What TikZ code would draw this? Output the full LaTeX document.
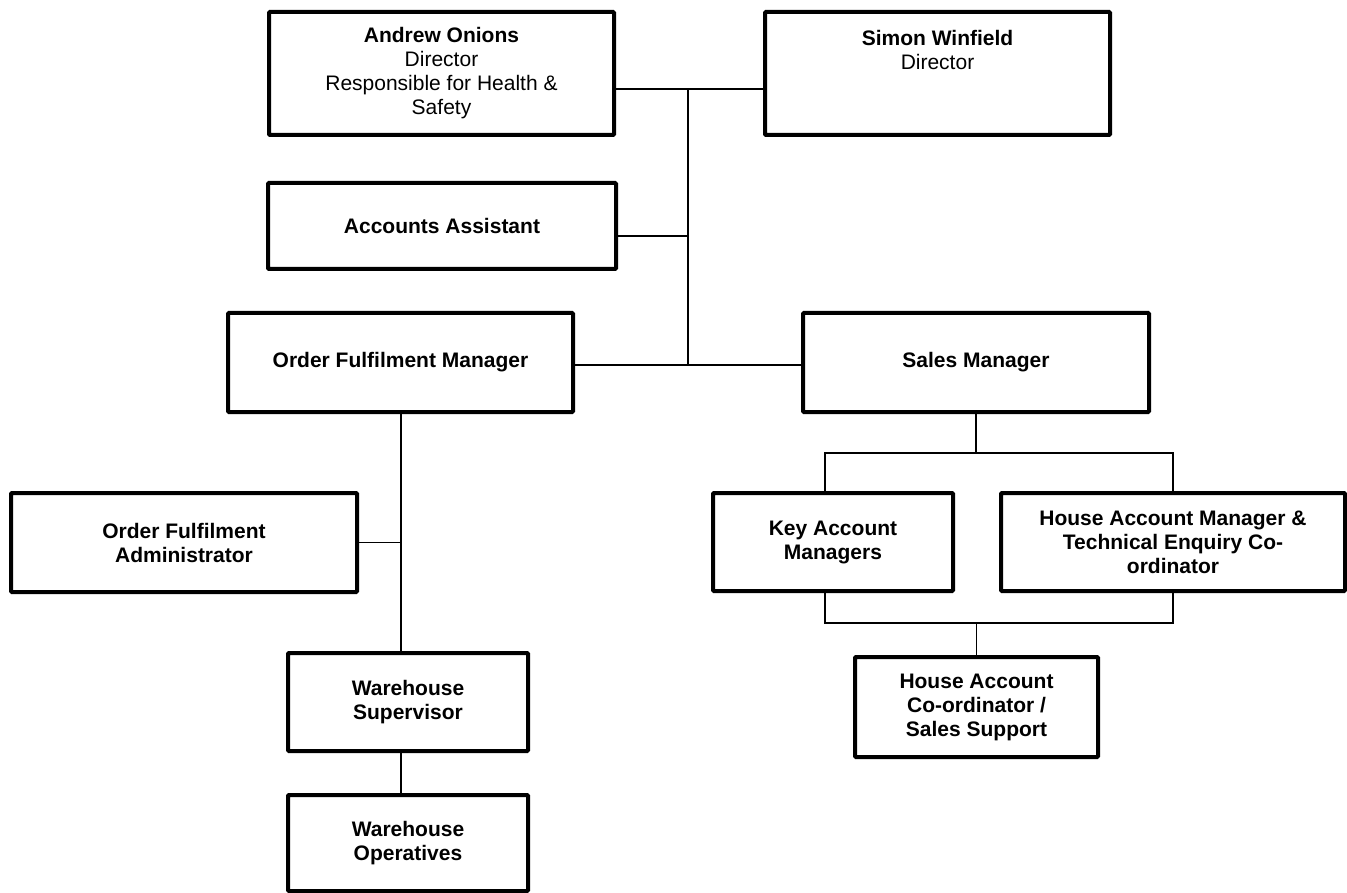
\documentclass[tikz,border=0pt]{standalone}
\usepackage{fontspec}
\setmainfont{Liberation Sans}
\begin{document}
\begin{tikzpicture}[x=1pt,y=-1pt,
  box/.style={draw, line width=4pt, rectangle, rounded corners=1pt, inner sep=0pt, align=center,
    font=\bfseries\fontsize{21}{24}\selectfont},
  conn/.style={draw, line width=1.3pt}]
\useasboundingbox (0,0) rectangle (1347,893);
% nodes
\node[box, minimum width=345, minimum height=123] (andrew) at (441.5,73.5)
  {Andrew Onions\\\mdseries Director\\\mdseries Responsible for Health \&\\\mdseries Safety};
\node[box, minimum width=345, minimum height=123] (simon) at (937.5,73.5)
  {Simon Winfield\\\mdseries Director\\~\\~};
\node[box, minimum width=348, minimum height=86] (accounts) at (442,226) {Accounts Assistant};
\node[box, minimum width=345, minimum height=99] (ofm) at (400.5,362.5) {Order Fulfilment Manager};
\node[box, minimum width=346, minimum height=99] (sales) at (976,362.5) {Sales Manager};
\node[box, minimum width=346, minimum height=99] (ofa) at (184,542.5) {Order Fulfilment\\Administrator};
\node[box, minimum width=240, minimum height=98] (kam) at (833,542) {Key Account\\Managers};
\node[box, minimum width=344, minimum height=98] (ham) at (1173,542) {House Account Manager \&\\Technical Enquiry Co-\\ordinator};
\node[box, minimum width=243, minimum height=100] (hacs) at (976.5,707) {House Account\\Co-ordinator /\\Sales Support};
\node[box, minimum width=240, minimum height=98] (ws) at (408,702) {Warehouse\\Supervisor};
\node[box, minimum width=240, minimum height=96] (wo) at (408,843) {Warehouse\\Operatives};
% junction coordinates
\coordinate (top) at (688,89);
\coordinate (acc) at (688,236);
\coordinate (mid) at (688,365);
\coordinate (spine) at (401,412);
\coordinate (sb) at (976,453);
\coordinate (kl) at (825,453);
\coordinate (hr) at (1173,453);
\coordinate (kl2) at (825,623);
\coordinate (hr2) at (1173,623);
% connectors
\draw[conn] (andrew.east |- top) -- (simon.west |- top);
\draw[conn] (top) -- (mid);
\draw[conn] (accounts.east |- acc) -- (acc);
\draw[conn] (ofm.east |- mid) -- (sales.west |- mid);
\draw[conn] (spine) -- (spine |- ws.north);
\draw[conn] (ofa.east) -- (ofa.east -| spine);
\draw[conn] (spine |- ws.south) -- (spine |- wo.north);
\draw[conn] (sales.south) -- (sb);
\draw[conn] (kl |- kam.north) -- (kl) -- (hr) -- (ham.north);
\draw[conn] (kl2 |- kam.south) -- (kl2) -- (hr2) -- (ham.south);
\draw[conn] (hacs.north |- kl2) -- (hacs.north);
\end{tikzpicture}
\end{document}
